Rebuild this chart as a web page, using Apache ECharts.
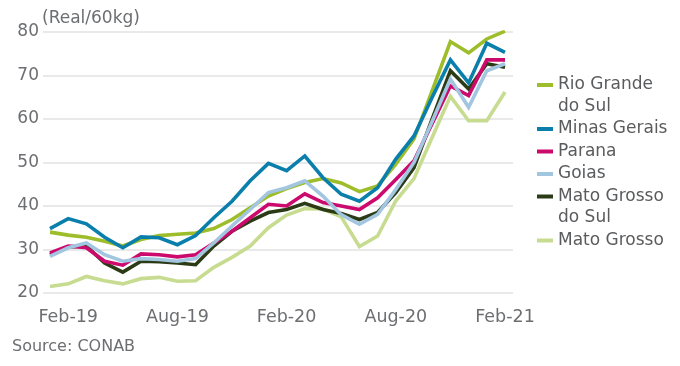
<!DOCTYPE html>
<html><head><meta charset="utf-8">
<script src="https://cdn.jsdelivr.net/npm/echarts@6/dist/echarts.min.js"></script>
<style>html,body{margin:0;padding:0;background:#fff}#c{width:680px;height:366px}</style>
</head><body><div id="c"></div>
<script>
const months = ['Jan-19','Feb-19','Mar-19','Apr-19','May-19','Jun-19','Jul-19','Aug-19','Sep-19','Oct-19','Nov-19','Dec-19',
  'Jan-20','Feb-20','Mar-20','Apr-20','May-20','Jun-20','Jul-20','Aug-20','Sep-20','Oct-20','Nov-20','Dec-20','Jan-21','Feb-21'];
const yTicks = [20, 30, 40, 50, 60, 70, 80];

const rioGrandeDoSul = [34.0,33.3,32.8,31.9,30.8,32.3,33.2,33.5,33.8,34.8,36.9,39.6,42.3,44.0,45.4,46.3,45.3,43.3,44.6,49.6,55.4,66.5,77.8,75.2,78.4,80.2];
const minasGerais    = [34.8,37.1,35.9,32.8,30.4,32.9,32.7,31.1,33.2,37.3,41.1,45.8,49.8,48.1,51.5,46.5,42.7,41.1,44.2,50.8,56.1,65.0,73.6,68.3,77.4,75.3];
const parana         = [29.2,30.8,30.4,27.3,26.4,29.0,28.8,28.3,28.8,31.5,34.2,37.3,40.4,40.0,42.8,40.8,40.0,39.2,41.9,46.1,50.4,59.0,67.6,65.4,73.6,73.6];
const goias          = [28.4,30.4,31.5,28.8,27.3,27.9,27.7,27.3,27.9,31.5,35.4,39.2,43.1,44.2,45.8,42.3,38.0,35.8,38.1,43.8,50.0,59.5,69.2,62.7,71.1,72.7];
const matoGrossoDoSul= [28.8,30.6,30.8,26.9,24.8,27.3,27.2,26.9,26.5,30.8,34.2,36.5,38.5,39.2,40.6,39.2,38.3,36.9,38.5,43.1,48.8,60.0,71.1,66.9,72.7,71.9];
const matoGrosso     = [21.5,22.1,23.8,22.8,22.1,23.3,23.6,22.7,22.8,25.9,28.2,30.8,35.0,37.9,39.4,39.3,37.5,30.7,33.1,41.2,46.3,55.8,65.2,59.6,59.6,66.2];

const names  = ['Rio Grande do Sul','Minas Gerais','Parana','Goias','Mato Grosso do Sul','Mato Grosso'];
const legendLabels = ['Rio Grande\ndo Sul','Minas Gerais','Parana','Goias','Mato Grosso\ndo Sul','Mato Grosso'];
const values = [rioGrandeDoSul, minasGerais, parana, goias, matoGrossoDoSul, matoGrosso];
const colors = ['#9dbd2a','#0b7fab','#cc0a6e','#a3c6e0','#2b3b16','#c7dc90'];
const drawOrder = [5, 0, 4, 2, 3, 1];

const FONT = 'DejaVu Sans';
const chart = echarts.init(document.getElementById('c'), null, {renderer:'canvas'});

const series = drawOrder.map(i => ({
  name: names[i], type: 'line', xAxisIndex: 1, yAxisIndex: 1,
  data: values[i], symbol: 'none', smooth: false,
  lineStyle: {color: colors[i], width: 3.6, join: 'miter'},
  itemStyle: {color: colors[i]}
}));

const graphic = [];
let ly = 85;
legendLabels.forEach((lab, i) => {
  const lines = lab.split('\n').length;
  graphic.push({type:'rect', left: 537, top: ly - 2, shape:{width:16, height:4}, style:{fill: colors[i]}, silent:true});
  graphic.push({type:'text', left: 558, top: ly - 11, style:{text: lab, font: '17px ' + FONT, fill:'#5a5b5d', lineHeight: 21.5}, silent:true});
  ly += lines * 21.5 + 1;
});
graphic.push({type:'text', left: 42, top: 10, style:{text:'(Real/60kg)', font:'17px ' + FONT, fill:'#6d6e71'}});
graphic.push({type:'text', left: 12, top: 339, style:{text:'Source: CONAB', font:'16px ' + FONT, fill:'#6d6e71'}});

chart.setOption({
  animation: false,
  backgroundColor: '#fff',
  grid: [
    {left: 43, right: 167, top: 32, bottom: 73},
    {left: 50, right: 175, top: 32, bottom: 73}
  ],
  xAxis: [
    {gridIndex: 0, type: 'category', data: months, show: false},
    {gridIndex: 1, type: 'category', data: months, boundaryGap: false,
      axisLine: {show: false}, axisTick: {show: false}, splitLine: {show: false},
      axisLabel: {interval: (idx) => idx % 6 === 1, margin: 15, fontFamily: FONT, fontSize: 17.5, color: '#6d6e71'}}
  ],
  yAxis: [
    {gridIndex: 0, type: 'value', min: yTicks[0], max: yTicks[yTicks.length-1], interval: 10,
      axisLine: {show: false}, axisTick: {show: false},
      splitLine: {lineStyle: {color: '#e2e2e2', width: 1.5}},
      axisLabel: {margin: 4, fontFamily: FONT, fontSize: 17, color: '#6d6e71'}},
    {gridIndex: 1, type: 'value', min: yTicks[0], max: yTicks[yTicks.length-1], interval: 10, show: false, splitLine:{show:false}}
  ],
  series: series,
  graphic: graphic
});
</script>
</body></html>
